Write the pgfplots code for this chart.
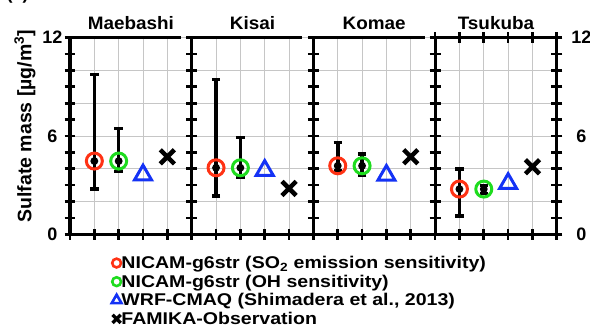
\documentclass[border=0pt]{standalone}
\usepackage{pgfplots}
\pgfplotsset{compat=1.18}
\usepackage{fontspec}
\setmainfont{Liberation Sans}
\definecolor{cred}{RGB}{255,50,20}
\definecolor{cgreen}{RGB}{30,220,30}
\definecolor{cblue}{RGB}{20,50,245}
\pgfplotsset{
  panel/.style={
    scale only axis, width=121.7pt, height=196.6pt, anchor=south west,
    xmin=0, xmax=5, ymin=0, ymax=12,
    xtick={0,1,2,3,4,5}, xticklabels={},
    ytick={0,2,4,6,8,10,12}, minor ytick={1,3,5,7,9,11},
    line width=3.2pt,
    grid=major, grid style={gray!45, line width=0.8pt},
    tick align=center, major tick length=11pt, minor tick length=11pt,
    tick style={black, line width=2.7pt},
    minor tick style={black, line width=2.7pt},
    axis line style={line width=3.2pt, line cap=rect},
    every outer x axis line/.append style={line width=3.2pt},
    every outer y axis line/.append style={line width=3.2pt},
    clip=false,
    title style={font=\fontsize{18}{20}\selectfont\bfseries, xscale=1.05, anchor=base, at={(0.5,1)}, yshift=2.5pt},
    yticklabel style={font=\fontsize{18}{20}\selectfont\bfseries},
    /pgf/number format/assume math mode=true,
  },
  sbar/.style={only marks, mark=none, black, line width=3.6pt,
    error bars/y dir=both, error bars/y explicit,
    error bars/error bar style={line width=3.6pt, black},
    error bars/error mark options={rotate=90, mark size=4.2pt, line width=3.2pt, black}},
  redc/.style={only marks, mark=o, draw=cred, mark size=8pt, line width=3pt},
  greenc/.style={only marks, mark=o, draw=cgreen, mark size=8pt, line width=3pt},
  bluet/.style={only marks, mark=triangle, draw=cblue, mark size=9.8pt, line width=3pt},
  blackx/.style={only marks, mark=x, draw=black, mark size=10pt, line width=4.5pt},
}
\pgfplotstableread{
x y ep em
1 4.47 5.30 1.71
2 4.47 1.99 0.65
}\maeErr
\pgfplotstableread{
x y ep em
1 4.06 5.41 1.72
2 4.06 1.85 0.59
}\kisErr
\pgfplotstableread{
x y ep em
1 4.18 1.43 0.30
2 4.18 0.72 0.60
}\komErr
\pgfplotstableread{
x y ep em
1 2.76 1.22 1.64
2 2.76 0.24 0.26
}\tsuErr
\begin{document}
\begin{tikzpicture}
% Maebashi
\begin{axis}[panel, at={(70pt,93.7pt)}, axis x line*=bottom, axis y line*=left,
  title={Maebashi}, yticklabels={0,,,6,,,12},
  yticklabel style={anchor=center, xshift=-12pt},
  ylabel={Sulfate mass [\textmu g/m\textsuperscript{3}]},
  ylabel style={font=\fontsize{19.5}{21}\selectfont\bfseries, at={(axis description cs:-0.37,0.55)}, anchor=center},
  legend style={at={(axis description cs:0.33,-0.103)}, anchor=north west, draw=none, fill=none,
    font=\fontsize{17}{18}\selectfont\bfseries, row sep=4.8pt, inner sep=0pt,
    nodes={inner sep=0pt, xscale=1.15}, legend cell align=left},
  legend image code/.code={\draw[#1] plot coordinates {(3.5pt,0pt)};},
]
\addlegendimage{only marks, mark=o, draw=cred, mark size=4.4pt, line width=2.6pt}
\addlegendentry{NICAM-g6str (SO\textsubscript{2} emission sensitivity)}
\addlegendimage{only marks, mark=o, draw=cgreen, mark size=4.4pt, line width=2.6pt}
\addlegendentry{NICAM-g6str (OH sensitivity)}
\addlegendimage{only marks, mark=triangle, draw=cblue, mark size=5.6pt, line width=2.6pt}
\addlegendentry{WRF-CMAQ (Shimadera et al., 2013)}
\addlegendimage{only marks, mark=x, draw=black, mark size=5.8pt, line width=3.4pt}
\addlegendentry{FAMIKA-Observation}
\draw[line width=3pt] (axis cs:0,12) -- (axis cs:4.55,12);
\addplot[sbar, forget plot] table[x=x, y=y, y error plus=ep, y error minus=em] {\maeErr};
\addplot[redc, forget plot] coordinates {(1,4.47)};
\addplot[greenc, forget plot] coordinates {(2,4.47)};
\addplot[bluet, forget plot] coordinates {(3,3.62)};
\addplot[blackx, forget plot] coordinates {(4,4.73)};
\end{axis}
% Kisai
\begin{axis}[panel, at={(191.7pt,93.7pt)}, axis x line*=bottom, axis y line*=left,
  title={Kisai}, yticklabels={}]
\draw[line width=3pt] (axis cs:0,12) -- (axis cs:4.55,12);
\addplot[sbar] table[x=x, y=y, y error plus=ep, y error minus=em] {\kisErr};
\addplot[redc] coordinates {(1,4.06)};
\addplot[greenc] coordinates {(2,4.06)};
\addplot[bluet] coordinates {(3,3.90)};
\addplot[blackx] coordinates {(4,2.80)};
\end{axis}
% Komae
\begin{axis}[panel, at={(313.4pt,93.7pt)}, axis x line*=bottom, axis y line*=left,
  title={Komae}, yticklabels={}]
\draw[line width=3pt] (axis cs:0,12) -- (axis cs:4.6,12);
\addplot[sbar] table[x=x, y=y, y error plus=ep, y error minus=em] {\komErr};
\addplot[redc] coordinates {(1,4.18)};
\addplot[greenc] coordinates {(2,4.18)};
\addplot[bluet] coordinates {(3,3.60)};
\addplot[blackx] coordinates {(4,4.73)};
\end{axis}
% Tsukuba
\begin{axis}[panel, at={(435.1pt,93.7pt)}, axis x line*=box,
  title={Tsukuba}, ytick pos=both, yticklabel pos=right, yticklabels={0,,,6,,,12},
  yticklabel style={anchor=center, xshift=19pt}]
\addplot[sbar] table[x=x, y=y, y error plus=ep, y error minus=em] {\tsuErr};
\addplot[redc] coordinates {(1,2.76)};
\addplot[greenc] coordinates {(2,2.76)};
\addplot[bluet] coordinates {(3,3.10)};
\addplot[blackx] coordinates {(4,4.12)};
\end{axis}
\node[anchor=base west, font=\fontsize{18}{20}\selectfont\bfseries] at (3pt,328.5pt) {(a)};
\pgfresetboundingbox
\path[use as bounding box] (0pt,0pt) rectangle (590pt,328pt);
\end{tikzpicture}
\end{document}
